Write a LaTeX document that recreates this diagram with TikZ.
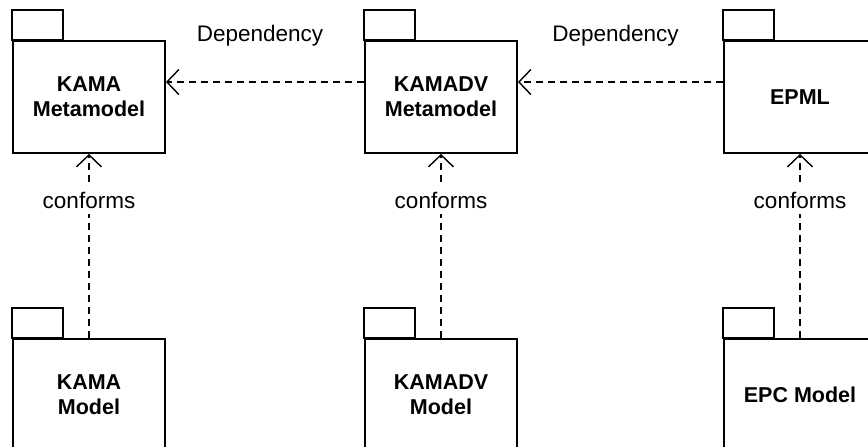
\documentclass[tikz,border=0pt]{standalone}
\usepackage{fontspec}
\setmainfont{Liberation Sans}
\usetikzlibrary{arrows.meta}
\begin{document}
\begin{tikzpicture}[x=1pt,y=-1pt,
  pkg/.style={draw, line width=1.8pt, minimum width=152pt, minimum height=112pt,
    align=center, inner sep=0pt, font=\fontsize{21.5}{25}\selectfont\bfseries},
  dep/.style={line width=1.4pt, dash pattern=on 7pt off 5pt,
    -{Straight Barb[length=12pt, width=25pt, line width=1.4pt]}},
  txt/.style={font=\fontsize{22.5}{26}\selectfont},
  lbl/.style={txt, fill=white, inner sep=5pt}]
\useasboundingbox (0,0) rectangle (868,447);
\node[pkg] (kmm) at (89,97) {KAMA\\Metamodel};
\node[pkg] (kdvmm) at (441,97) {KAMADV\\Metamodel};
\node[pkg] (epml) at (800,97) {EPML};
\node[pkg] (km) at (89,395) {KAMA\\Model};
\node[pkg] (kdvm) at (441,395) {KAMADV\\Model};
\node[pkg] (epc) at (800,395) {EPC Model};
\foreach \n in {kmm,kdvmm,epml,km,kdvm,epc}
  \draw[line width=1.8pt] (\n.north west) rectangle ++(51,-30);
\draw[dep] ([yshift=15pt]kdvmm.west) -- ([yshift=15pt]kmm.east)
  node[txt, midway, yshift=46pt, xshift=-5pt] {Dependency};
\draw[dep] ([yshift=15pt]epml.west) -- ([yshift=15pt]kdvmm.east)
  node[txt, midway, yshift=46pt, xshift=-5pt] {Dependency};
\draw[dep] (km.north) -- (kmm.south) node[lbl, pos=0.747] {conforms};
\draw[dep] (kdvm.north) -- (kdvmm.south) node[lbl, pos=0.747] {conforms};
\draw[dep] (epc.north) -- (epml.south) node[lbl, pos=0.747] {conforms};
\end{tikzpicture}
\end{document}
